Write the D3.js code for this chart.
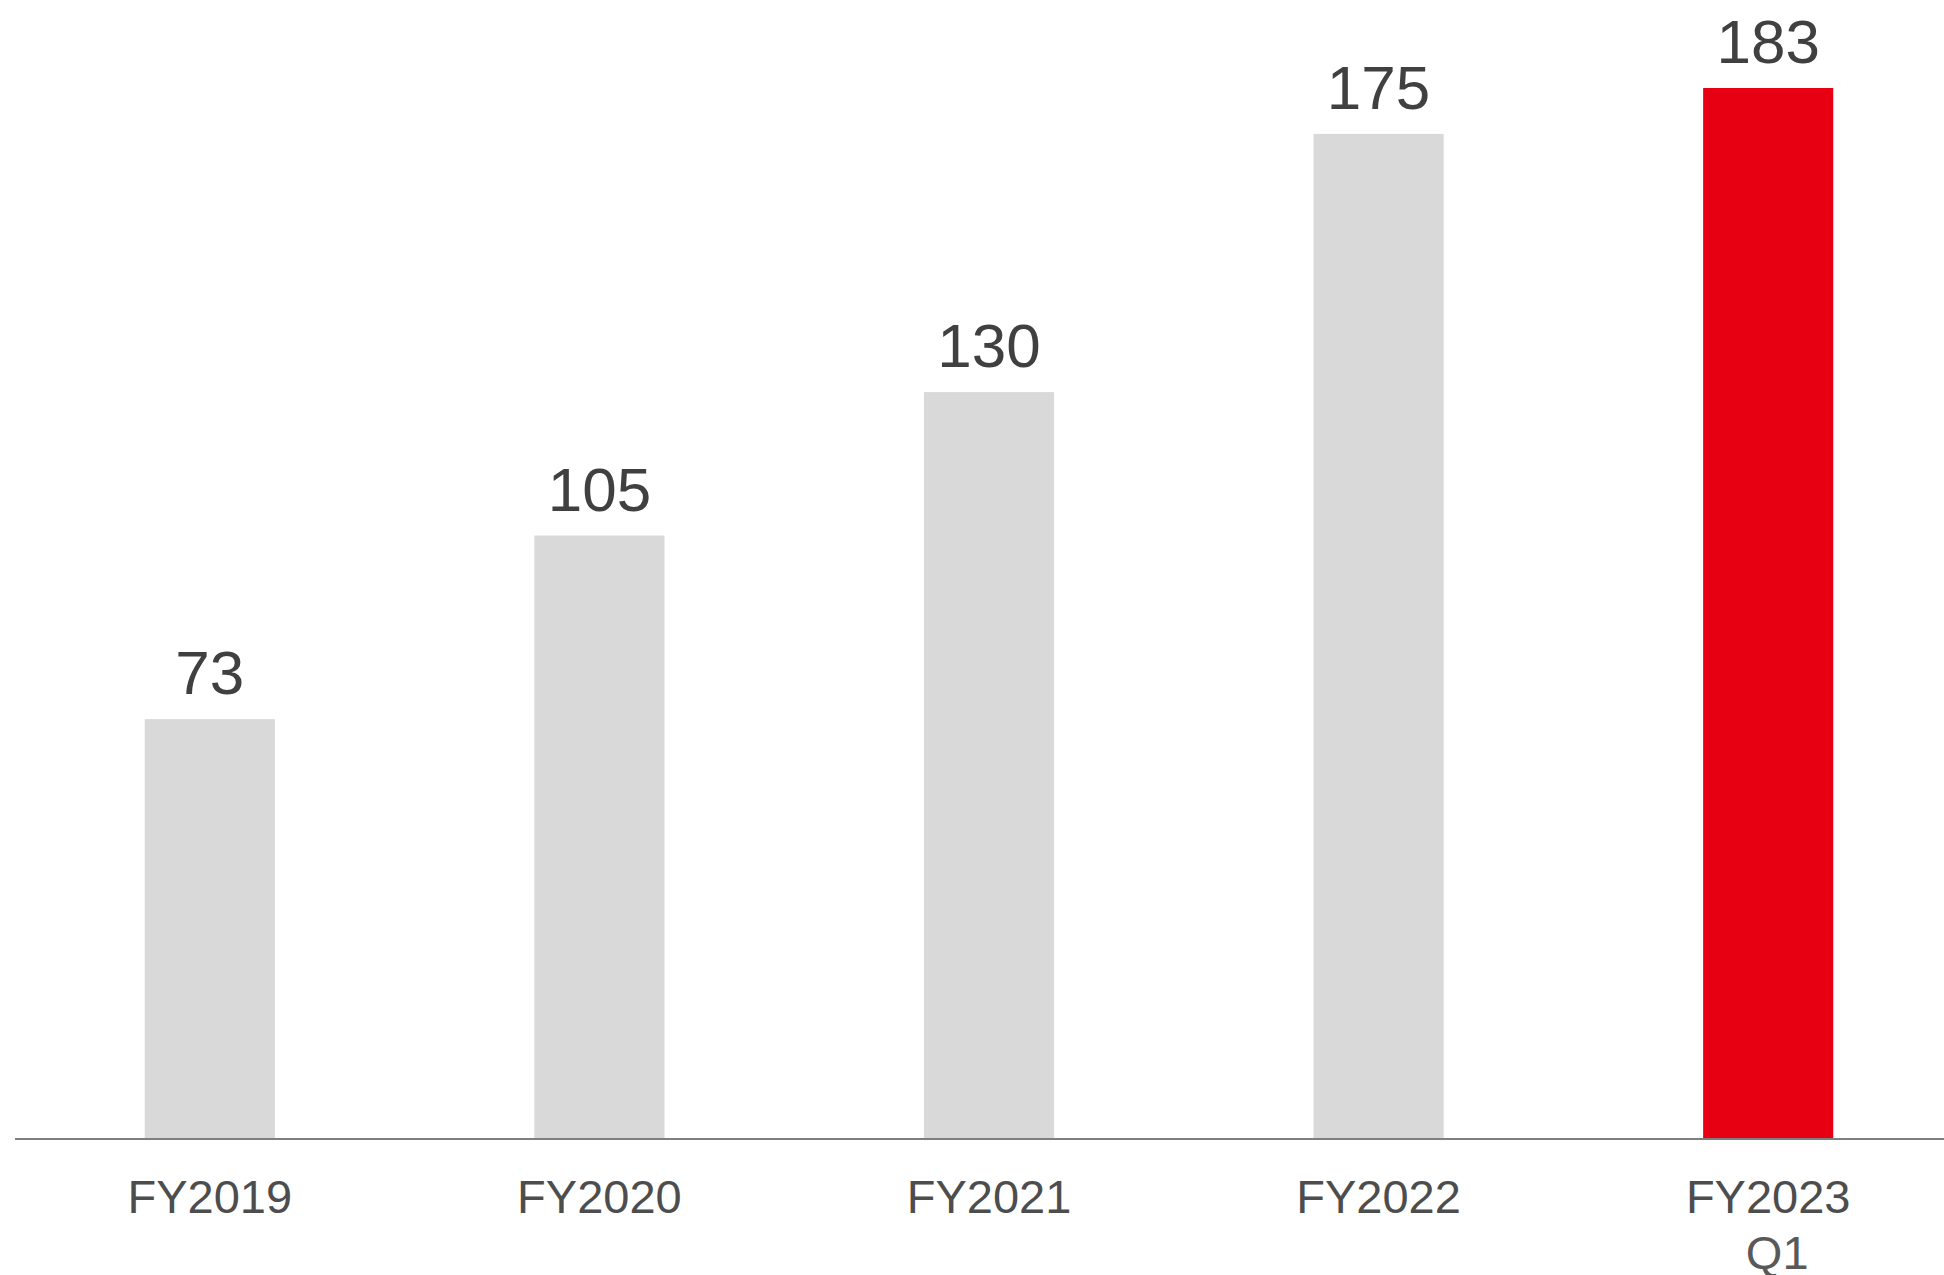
<!DOCTYPE html>
<html>
<head>
<meta charset="utf-8">
<script src="https://cdn.jsdelivr.net/npm/d3@7"></script>
<style>
  html, body { margin: 0; padding: 0; background: #fff; }
  svg { display: block; }
</style>
</head>
<body>
<svg id="chart"></svg>
<script>
// data
const categories = ["FY2019", "FY2020", "FY2021", "FY2022", "FY2023"];
const subLabels = ["", "", "", "", "Q1"];
const values = [73, 105, 130, 175, 183];
const barColors = ["#d9d9d9", "#d9d9d9", "#d9d9d9", "#d9d9d9", "#e60012"];

const width = 1944;
const height = 1275;
const baseline = 1138;

const svg = d3.select("#chart")
  .attr("width", width)
  .attr("height", height);

const x = d3.scaleBand()
  .domain(categories)
  .range([15, 1963])
  .paddingInner(0.666)
  .paddingOuter(0.333);

const y = d3.scaleLinear()
  .domain([0, 183])
  .range([baseline, 88]);

// bars
svg.selectAll("rect.bar")
  .data(values)
  .enter()
  .append("rect")
  .attr("class", "bar")
  .attr("x", (d, i) => x(categories[i]))
  .attr("y", d => y(d))
  .attr("width", x.bandwidth())
  .attr("height", d => y(0) - y(d))
  .attr("fill", (d, i) => barColors[i]);

// value labels
svg.selectAll("text.val")
  .data(values)
  .enter()
  .append("text")
  .attr("class", "val")
  .attr("x", (d, i) => x(categories[i]) + x.bandwidth() / 2)
  .attr("y", d => y(d) - 25)
  .attr("text-anchor", "middle")
  .attr("font-family", "Liberation Sans, Arial, sans-serif")
  .attr("font-size", 62)
  .attr("fill", "#404040")
  .text(d => d);

// axis line
svg.append("line")
  .attr("x1", 15)
  .attr("x2", width)
  .attr("y1", baseline + 1)
  .attr("y2", baseline + 1)
  .attr("stroke", "#7f7f7f")
  .attr("stroke-width", 2);

// category labels
const lab = svg.selectAll("text.cat")
  .data(categories)
  .enter()
  .append("text")
  .attr("class", "cat")
  .attr("x", d => x(d) + x.bandwidth() / 2)
  .attr("y", 1213)
  .attr("text-anchor", "middle")
  .attr("font-family", "Liberation Sans, Arial, sans-serif")
  .attr("font-size", 47)
  .attr("fill", "#4d4d4d")
  .text(d => d);

svg.selectAll("text.sub")
  .data(subLabels)
  .enter()
  .append("text")
  .attr("class", "sub")
  .attr("x", (d, i) => x(categories[i]) + x.bandwidth() / 2 + 9)
  .attr("y", 1269)
  .attr("text-anchor", "middle")
  .attr("font-family", "Liberation Sans, Arial, sans-serif")
  .attr("font-size", 47)
  .attr("fill", "#595959")
  .text(d => d);
</script>
</body>
</html>
